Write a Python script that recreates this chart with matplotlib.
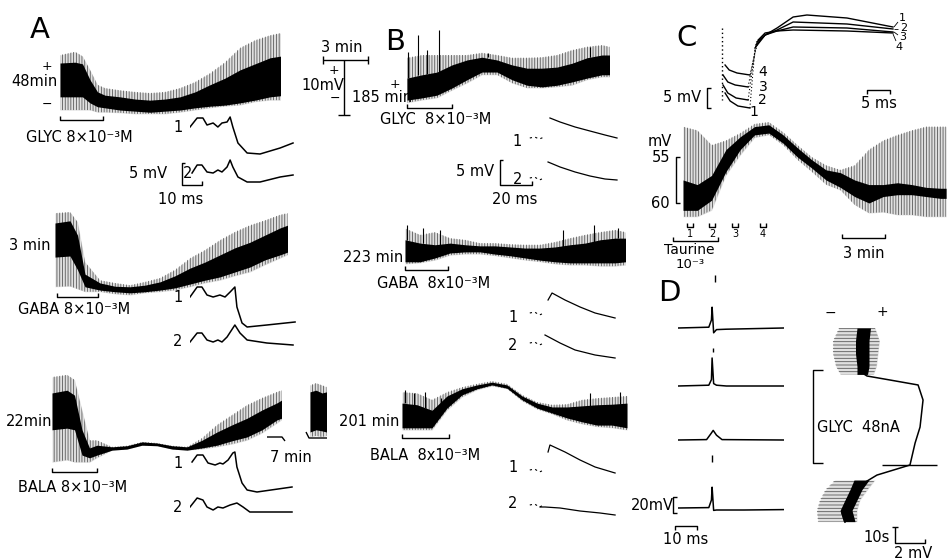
import matplotlib
matplotlib.use('Agg')
import matplotlib.pyplot as plt

plt.rcParams['font.family'] = ['DejaVu Sans Condensed', 'DejaVu Sans']
plt.rcParams['hatch.linewidth'] = 0.6

W, H = 947, 560

# ---------------- data ----------------
# slow chart-recorder traces: time (min), dense band hi/lo, sparse band top/bot (mV above box floor)
a_glyc_t = [0, 1, 1.5, 2, 2.5, 3, 4, 5, 6, 7, 8, 9, 10, 11, 12, 13, 14, 14.7]
a_glyc_hi = [9.45, 9.6, 9.3, 6.4, 4.2, 3.6, 3.3, 2.9, 2.7, 2.9, 3.3, 4.2, 5.5, 6.7, 8.2, 9.3, 10.4, 10.7]
a_glyc_lo = [3.3, 3.3, 3.3, 2.2, 1.5, 1.3, 0.9, 0.7, 0.5, 0.7, 0.9, 1.3, 1.6, 1.8, 2.2, 2.7, 3.3, 3.5]
a_glyc_top = [10.9, 11.5, 10.7, 8.2, 5.5, 4.9, 4.5, 4.2, 4.0, 4.2, 4.9, 6.0, 7.6, 9.6, 12.2, 13.6, 14.5, 14.9]
a_glyc_bot = [0.9, 0.9, 0.9, 0.9, 0.5, 0.5, 0.4, 0.2, 0.2, 0.2, 0.5, 0.9, 1.3, 1.6, 1.8, 2.4, 2.7, 2.7]

a_gaba_t = [0, 1, 1.5, 2, 3, 4, 5, 6, 7, 8, 9, 10, 11, 12, 13, 14, 15, 15.5]
a_gaba_hi = [14.0, 14.4, 11.8, 4.7, 3.1, 2.5, 2.4, 2.7, 3.3, 4.4, 5.8, 6.9, 8.2, 9.5, 10.5, 11.8, 13.1, 13.6]
a_gaba_lo = [7.8, 8.0, 5.5, 2.4, 1.8, 1.5, 1.3, 1.5, 1.8, 2.2, 2.9, 3.6, 4.2, 5.1, 6.0, 7.3, 8.2, 8.7]
a_gaba_top = [15.8, 16.0, 14.2, 6.9, 3.6, 3.1, 2.7, 3.3, 4.0, 5.5, 7.6, 9.1, 10.9, 12.4, 13.6, 14.5, 15.5, 15.8]
a_gaba_bot = [2.4, 2.5, 2.0, 1.5, 1.5, 1.1, 0.9, 1.3, 1.5, 1.8, 2.4, 3.1, 3.6, 4.4, 5.1, 6.4, 7.6, 8.2]

a_bala_t = [0, 1, 1.5, 2, 2.5, 3, 4, 5, 6, 7, 8, 9, 10, 11, 12, 13, 14, 15, 15.3]
a_bala_hi = [13.1, 13.6, 12.7, 6.4, 3.1, 3.6, 3.3, 3.5, 4.2, 4.0, 3.5, 3.3, 4.5, 6.0, 7.3, 8.5, 10.0, 11.3, 11.8]
a_bala_lo = [6.4, 6.7, 6.4, 1.8, 1.3, 1.8, 2.7, 2.9, 3.6, 3.5, 2.9, 2.7, 3.1, 3.6, 4.4, 5.1, 6.4, 8.2, 8.5]
a_bala_top = [16.0, 16.4, 15.5, 10.0, 4.5, 4.5, 3.3, 3.5, 4.2, 4.0, 3.5, 3.3, 4.9, 7.3, 9.1, 10.9, 12.2, 13.3, 13.6]
a_bala_bot = [0.5, 0.9, 0.5, 0.5, 0.5, 1.3, 2.7, 2.9, 3.6, 3.5, 2.9, 2.7, 2.9, 3.3, 3.8, 4.5, 5.8, 7.6, 8.2]
a_late_t = [0, 0.4, 0.8, 1.1]
a_late_hi = [13.3, 13.6, 13.1, 13.3]
a_late_lo = [6.0, 6.4, 6.2, 6.0]
a_late_top = [14.5, 14.9, 14.5, 14.2]
a_late_bot = [5.1, 5.3, 5.1, 5.3]

b_glyc_t = [0, 1, 2, 3, 4, 5, 6, 7, 8, 9, 10, 11, 12, 13, 13.5]
b_glyc_hi = [5.8, 6.4, 6.9, 8.2, 9.1, 9.6, 9.1, 8.2, 7.6, 7.6, 7.8, 8.5, 9.5, 10.0, 10.0]
b_glyc_lo = [1.8, 2.2, 2.7, 4.0, 5.5, 6.9, 6.9, 5.5, 4.5, 4.2, 4.5, 5.1, 5.8, 6.4, 6.4]
b_glyc_top = [9.5, 10.0, 10.0, 10.0, 10.0, 10.4, 10.0, 9.5, 9.5, 9.6, 10.0, 10.9, 11.5, 11.8, 11.5]
b_glyc_bot = [1.3, 1.8, 2.2, 3.6, 4.9, 6.4, 6.4, 4.9, 4.0, 4.0, 4.2, 4.5, 5.5, 6.0, 6.0]
b_glyc_spk_t = [0.05, 0.7, 1.3, 2.1, 5.4, 12.2]
b_glyc_spk_lo = [5.8, 6.4, 6.6, 6.9, 9.6, 9.6]
b_glyc_spk_hi = [10.5, 13.6, 10.9, 14.5, 10.4, 11.5]

b_gaba_t = [0, 1, 2, 3, 4, 5, 6, 7, 8, 9, 10, 11, 12, 13, 14, 14.7]
b_gaba_hi = [6.4, 5.8, 5.5, 5.8, 5.5, 5.3, 5.3, 5.1, 4.9, 4.9, 5.1, 5.5, 5.8, 6.4, 6.7, 6.7]
b_gaba_lo = [2.4, 2.4, 3.1, 4.0, 4.2, 4.2, 3.8, 3.5, 3.1, 2.7, 2.4, 2.2, 2.2, 2.2, 2.2, 2.4]
b_gaba_top = [8.5, 7.3, 7.8, 6.7, 6.4, 5.8, 5.8, 5.6, 5.5, 5.5, 6.0, 6.7, 7.3, 7.8, 8.2, 7.8]
b_gaba_bot = [2.0, 2.2, 2.7, 3.6, 3.8, 3.8, 3.5, 3.1, 2.7, 2.4, 2.0, 1.8, 1.8, 1.6, 1.6, 1.8]
b_gaba_spk_t = [0.1, 1.2, 2.3, 10.5, 12.6, 14.2]
b_gaba_spk_lo = [6.4, 5.8, 5.5, 5.1, 5.8, 6.7]
b_gaba_spk_hi = [9.1, 8.5, 8.2, 8.2, 9.1, 8.5]

b_bala_t = [0, 1, 2, 3, 4, 5, 6, 7, 8, 9, 10, 11, 12, 13, 14, 15]
b_bala_hi = [5.8, 5.5, 4.5, 7.1, 8.4, 9.1, 9.6, 9.1, 7.1, 5.8, 5.1, 5.1, 5.3, 5.5, 5.6, 5.8]
b_bala_lo = [1.3, 1.3, 1.3, 4.9, 7.3, 8.4, 9.1, 8.5, 6.4, 4.9, 4.0, 3.1, 2.4, 1.8, 1.8, 1.3]
b_bala_top = [7.8, 7.6, 6.4, 7.8, 8.7, 9.3, 9.8, 9.3, 7.3, 6.0, 5.5, 5.6, 6.4, 6.7, 6.9, 7.1]
b_bala_bot = [0.9, 0.9, 0.9, 4.5, 6.9, 8.2, 8.9, 8.4, 6.2, 4.7, 3.8, 2.7, 2.0, 1.5, 1.3, 0.9]
b_bala_spk_t = [0.2, 0.8, 1.5, 2.6, 12.5, 14.5]
b_bala_spk_lo = [5.8, 5.5, 5.0, 5.5, 5.3, 5.6]
b_bala_spk_hi = [8.2, 7.6, 7.8, 6.7, 7.6, 7.8]

# evoked potentials in A: time (ms), mV above box floor
a1_glyc_t = [0, 2.1, 3.8, 5.0, 6.8, 8.2, 9.4, 10.9, 11.8, 12.6, 14.1, 16.8, 20.6, 26.5, 30.3]
a1_glyc_v = [8.25, 10.5, 10.5, 8.75, 9.25, 8.25, 9.25, 9.5, 10.75, 8.25, 4.25, 1.75, 1.5, 3.0, 4.25]
a2_glyc_t = [0.6, 2.1, 3.5, 5.0, 6.8, 8.2, 9.4, 10.9, 11.8, 12.6, 14.1, 16.8, 20.6, 26.5, 30.3]
a2_glyc_v = [6.75, 8.75, 8.75, 7.0, 6.75, 7.5, 7.0, 8.25, 10.0, 8.25, 5.75, 4.5, 4.5, 5.75, 6.25]
a1_gaba_t = [0, 2.1, 3.5, 5.0, 6.8, 8.8, 10.3, 11.8, 13.2, 13.8, 15.3, 16.8, 22.6, 30.9]
a1_gaba_v = [8.25, 10.75, 10.75, 8.75, 8.25, 8.75, 8.25, 9.5, 10.75, 5.75, 1.75, 0.75, 1.25, 2.0]
a2_gaba_t = [0, 2.1, 3.5, 5.0, 6.8, 8.2, 9.4, 10.9, 13.2, 14.7, 16.8, 22.6, 30.3]
a2_gaba_v = [4.5, 6.75, 6.75, 5.0, 4.5, 5.0, 4.5, 5.75, 8.75, 6.75, 5.0, 4.25, 3.75]
a1_bala_t = [0.6, 2.1, 3.8, 5.3, 7.4, 8.8, 9.7, 11.2, 12.6, 13.2, 13.8, 15.3, 16.8, 19.7, 30.0]
a1_bala_v = [9.5, 11.25, 11.25, 9.25, 8.75, 9.25, 9.0, 10.0, 11.75, 12.0, 8.25, 4.25, 2.5, 2.0, 3.25]
a2_bala_t = [0, 2.1, 3.8, 5.0, 6.8, 8.2, 9.7, 11.8, 13.8, 15.6, 17.6, 30.0]
a2_bala_v = [5.75, 8.0, 7.5, 5.75, 5.0, 5.75, 5.5, 6.25, 6.75, 5.75, 4.5, 4.5]

# evoked potentials in B: faint lead-in and decay (ms, mV)
b_pre_t = [3, 6, 9, 12]
b1_glyc_pre = [1.4, 1.6, 1.2, 1.6]
b1_glyc_t = [15.6, 21.9, 31.3, 40.6, 50, 57.5]
b1_glyc_v = [5.4, 4.6, 3.6, 2.8, 2.0, 1.4]
b2_glyc_pre = [1.4, 1.6, 1.0, 1.4]
b2_glyc_t = [14.4, 21.9, 31.3, 40.6, 50, 57.5]
b2_glyc_v = [4.6, 3.6, 2.6, 1.8, 1.2, 1.0]
b1_gaba_pre = [2.4, 2.6, 2.0, 2.4]
b1_gaba_t = [14.4, 16.9, 25, 34.4, 43.8, 56.3]
b1_gaba_v = [5.0, 6.4, 5.0, 3.6, 2.4, 1.4]
b2_gaba_pre = [4.4, 4.6, 4.0, 4.4]
b2_gaba_t = [12.5, 21.9, 31.3, 43.8, 56.3]
b2_gaba_v = [6.0, 4.4, 3.0, 2.0, 1.4]
b1_bala_pre = [2.0, 2.2, 1.6, 2.0]
b1_bala_t = [14.4, 15.6, 25, 34.4, 43.8, 56.3]
b1_bala_v = [5.6, 7.0, 5.6, 4.0, 2.6, 1.4]
b2_bala_pre = [3.0, 3.2, 2.6, 3.0]
b2_bala_t = [9.4, 12.5, 21.9, 34.4, 46.9, 56.3]
b2_bala_v = [2.6, 2.6, 2.4, 1.8, 1.4, 1.0]

# C: superimposed responses 1-4 (ms, mV)
c_left_t = [[1.1, 2.2, 3.9, 6.5], [0.65, 1.7, 3.5, 6.1], [0.65, 1.7, 3.3, 6.1], [1.1, 2.0, 3.7, 6.5]]
c_left_v = [[6.75, 4.75, 3.5, 3.0], [8.75, 6.75, 5.5, 5.0], [11.25, 9.5, 8.75, 8.25], [13.75, 12.5, 11.75, 11.25]]
c_right_t = [[7.6, 9.8, 12.4, 15.9, 18.9, 27.6, 37.6], [7.8, 9.8, 12.4, 15.9, 27.6, 37.6],
             [8.0, 9.8, 12.4, 15.9, 27.6, 37.6], [8.3, 9.8, 12.4, 15.9, 27.6, 37.6]]
c_right_v = [[18, 21.25, 23, 25.75, 26.25, 25.5, 23.25], [18.75, 21.25, 22.5, 24.5, 24, 22.75],
             [19.5, 21.25, 22.25, 23.25, 23, 22], [20, 21.75, 22.25, 22.5, 22.25, 21.75]]
c_art_t = [0.4, 0.4]
c_art_v = [23, 5]
curve_names = ['1', '2', '3', '4']

# C: taurine record (min, mV)
c_t = [0, 1, 2, 3, 4, 5, 6, 7, 8, 9, 10, 11, 12, 13, 14, 15, 16, 17, 18, 18.4]
c_hi = [-57.5, -58.0, -57.0, -54.2, -52.8, -51.7, -51.5, -52.6, -54.0, -55.3, -56.4, -56.7, -57.5, -58.0, -58.0, -57.8, -58.0, -58.3, -58.4, -58.4]
c_lo = [-60.8, -60.8, -59.7, -56.6, -54.2, -52.6, -52.4, -53.5, -55.0, -56.2, -57.5, -58.3, -59.3, -60.0, -59.3, -59.1, -59.1, -59.3, -59.5, -59.5]
c_top = [-51.7, -52.1, -53.7, -53.2, -52.4, -51.4, -51.2, -52.3, -53.7, -55.0, -55.9, -56.4, -55.9, -54.2, -53.2, -52.6, -52.1, -51.7, -51.7, -51.7]
c_bot = [-61.5, -61.5, -60.8, -57.0, -54.8, -52.9, -52.6, -53.7, -55.3, -56.6, -58.0, -58.6, -60.2, -61.1, -61.0, -61.3, -61.3, -61.5, -61.5, -61.5]
c_marks = ['1', '2', '3', '4']

# D left: spikes (ms, mV)
d_t = [[0, 14, 15.2, 15.5, 16.2, 17.5, 22, 48], [0, 14, 15.2, 15.5, 16.2, 17.5, 22, 48],
       [0, 13, 15, 16, 17.5, 20, 48], [0, 14, 15.2, 15.5, 16.2, 17.5, 30, 48]]
d_v = [[0, 1, 10, 26, -6, -2, -1.5, 0], [0, 1, 8, 35, 3, 1, 0, 0],
       [0, 0.5, 8, 12, 6, 0.5, 0], [0, 0.5, 10, 26, -3, -2.5, -2.5, -2]]

# D right: slow record, time (s) runs downward, potential (mV) to the right
dr_top_t = [0, 8, 16, 24, 29]
dr_top_dlo = [-0.2, -0.3, -0.3, -0.2, -0.2]
dr_top_dhi = [0.7, 0.6, 0.6, 0.6, 0.5]
dr_top_slo = [-1.4, -1.8, -1.8, -1.6, -1.3]
dr_top_shi = [1.0, 1.3, 1.2, 1.1, 0.9]
dr_resp_t = [29, 30, 32.5, 35.6, 45, 61.9, 71.9, 85.6, 87.5, 91.9, 99.4, 107.5, 115.6, 121.3]
dr_resp_v = [0.3, 0.47, 2.0, 3.87, 4.2, 4.0, 3.67, 3.33, 2.67, 1.13, -0.2, -0.87, -1.2, -1.0]
dr_bot_t = [95, 101, 107.5, 114, 121]
dr_bot_dlo = [-0.4, -0.67, -1.0, -1.33, -1.1]
dr_bot_dhi = [0.6, 0.13, -0.2, -0.53, -0.33]
dr_bot_slo = [-1.67, -2.3, -2.67, -2.87, -2.8]
dr_bot_shi = [1.0, 0.5, 0.0, -0.2, -0.2]

# ---------------- figure ----------------
fig = plt.figure(figsize=(W / 100, H / 100), dpi=100)


def panel(l, t, r, b, sx, sy, y0=0.0):
    # axes placed by pixel box; sx, sy = pixels per data unit
    ax = fig.add_axes([l / W, 1 - b / H, (r - l) / W, (b - t) / H])
    ax.set_xlim(0, (r - l) / sx)
    ax.set_ylim(y0, y0 + (b - t) / sy)
    ax.axis('off')
    return ax


def noisy(ax, t, hi, lo, top, bot):
    ax.fill_between(t, bot, top, color='0.88', lw=0)
    ax.fill_between(t, bot, top, facecolor='none', edgecolor='0.35', hatch='||||||', lw=0)
    ax.fill_between(t, lo, hi, color='k', lw=0)


def spikes(ax, t, lo, hi):
    ax.vlines(t, lo, hi, color='k', lw=0.8)


# A slow records
ax = panel(60, 30, 282, 115, 15, 5.5)
noisy(ax, a_glyc_t, a_glyc_hi, a_glyc_lo, a_glyc_top, a_glyc_bot)
ax = panel(55, 205, 290, 300, 15, 5.5)
noisy(ax, a_gaba_t, a_gaba_hi, a_gaba_lo, a_gaba_top, a_gaba_bot)
ax = panel(52, 370, 285, 465, 15, 5.5)
noisy(ax, a_bala_t, a_bala_hi, a_bala_lo, a_bala_top, a_bala_bot)
ax = panel(310, 370, 330, 465, 15, 5.5)
noisy(ax, a_late_t, a_late_hi, a_late_lo, a_late_top, a_late_bot)

# A evoked
for base, t, v in [(160, a1_glyc_t, a1_glyc_v), (200, a2_glyc_t, a2_glyc_v),
                   (330, a1_gaba_t, a1_gaba_v), (360, a2_gaba_t, a2_gaba_v),
                   (500, a1_bala_t, a1_bala_v), (530, a2_bala_t, a2_bala_v)]:
    ax = panel(190, base - 50, 296, base, 3.4, 4)
    ax.plot(t, v, color='k', lw=1.1)

# B slow records
ax = panel(407, 25, 612, 110, 15, 5.5)
noisy(ax, b_glyc_t, b_glyc_hi, b_glyc_lo, b_glyc_top, b_glyc_bot)
spikes(ax, b_glyc_spk_t, b_glyc_spk_lo, b_glyc_spk_hi)
ax = panel(405, 215, 627, 275, 15, 5.5)
noisy(ax, b_gaba_t, b_gaba_hi, b_gaba_lo, b_gaba_top, b_gaba_bot)
spikes(ax, b_gaba_spk_t, b_gaba_spk_lo, b_gaba_spk_hi)
ax = panel(402, 375, 630, 435, 15, 5.5)
noisy(ax, b_bala_t, b_bala_hi, b_bala_lo, b_bala_top, b_bala_bot)
spikes(ax, b_bala_spk_t, b_bala_spk_lo, b_bala_spk_hi)

# B evoked
for base, pre, t, v in [(145, b1_glyc_pre, b1_glyc_t, b1_glyc_v), (185, b2_glyc_pre, b2_glyc_t, b2_glyc_v),
                        (325, b1_gaba_pre, b1_gaba_t, b1_gaba_v), (365, b2_gaba_pre, b2_gaba_t, b2_gaba_v),
                        (480, b1_bala_pre, b1_bala_t, b1_bala_v), (520, b2_bala_pre, b2_bala_t, b2_bala_v)]:
    ax = panel(525, base - 50, 620, base, 1.6, 5)
    ax.plot(b_pre_t, pre, color='k', lw=0.8, ls=(0, (2, 3)))
    ax.plot(t, v, color='k', lw=0.9)

# C superimposed responses
ax = panel(720, 5, 895, 120, 4.6, 4)
ax.plot(c_art_t, c_art_v, color='k', lw=1, ls=(0, (1, 2)))
for i in range(4):
    ax.plot(c_left_t[i], c_left_v[i], color='k', lw=1)
    ax.plot([c_left_t[i][-1], c_right_t[i][0]], [c_left_v[i][-1], c_right_v[i][0]],
            color='k', lw=0.8, ls=(0, (1, 2)))
    ax.plot(c_right_t[i], c_right_v[i], color='k', lw=1)

# C taurine record
ax = panel(683, 120, 947, 220, 14.3, 9.2, y0=-61.85)
noisy(ax, c_t, c_hi, c_lo, c_top, c_bot)

# D left spikes
for base, t, v in zip([328, 386, 440, 508], d_t, d_v):
    ax = panel(678, base - 40, 784, base + 10, 2.2, 0.8, y0=-12.5)
    ax.plot(t, v, color='k', lw=1.1)

# D right record (vertical time axis)
ax = fig.add_axes([810 / W, 1 - 525 / H, 130 / W, 205 / H])
ax.set_xlim(-3.33, 5.33)
ax.set_ylim(123.1, -5)
ax.axis('off')
for tt, slo, shi, dlo, dhi in [(dr_top_t, dr_top_slo, dr_top_shi, dr_top_dlo, dr_top_dhi),
                               (dr_bot_t, dr_bot_slo, dr_bot_shi, dr_bot_dlo, dr_bot_dhi)]:
    ax.fill_betweenx(tt, slo, shi, color='0.88', lw=0)
    ax.fill_betweenx(tt, slo, shi, facecolor='none', edgecolor='0.35', hatch='-----', lw=0)
    ax.fill_betweenx(tt, dlo, dhi, color='k', lw=0)
ax.plot(dr_resp_v, dr_resp_t, color='k', lw=1.1)

# ---------------- labels, brackets, scale bars ----------------
ov = fig.add_axes([0, 0, 1, 1])
ov.set_xlim(0, W)
ov.set_ylim(H, 0)
ov.axis('off')


def txt(x, y, s, size=10.5, **kw):
    ov.text(x, y, s, fontsize=size, ha='center', va='center', **kw)


def seg(xs, ys, lw=1.0):
    ov.plot(xs, ys, color='k', lw=lw, solid_capstyle='butt')


def bracket(x1, x2, y, h=4):
    seg([x1, x1, x2, x2], [y - h, y, y, y - h])


# panel A
txt(40, 30, 'A', 21)
txt(47, 66, '+', 9)
txt(34, 82, '48min')
txt(47, 104, '−', 9)
bracket(60, 103, 120)
txt(79, 137, 'GLYC 8×10⁻³M')
txt(178, 128, '1')
txt(188, 173, '2')
txt(148, 173, '5 mV')
seg([185, 182, 182, 202, 202], [163, 163, 185, 185, 181])
txt(181, 199, '10 ms')

txt(30, 245, '3 min')
bracket(57, 98, 297)
txt(74, 310, 'GABA 8×10⁻³M')
txt(178, 298, '1')
txt(178, 342, '2')

txt(29, 422, '22min')
bracket(52, 97, 472)
txt(73, 487, 'BALA 8×10⁻³M')
txt(178, 463, '1')
txt(178, 507, '2')
seg([267, 282, 285], [437, 437, 441])
seg([306, 309, 327], [432, 438, 438])
txt(291, 457, '7 min')

# panel B
txt(342, 47, '3 min')
seg([323, 368], [60, 60])
seg([323, 323], [56, 64])
seg([368, 368], [56, 64])
seg([344, 344], [60, 115])
seg([338, 350], [115, 115])
txt(334, 70, '+', 9)
txt(323, 85, '10mV')
txt(335, 98, '−', 9)
txt(395, 42, 'B', 21)
txt(395, 84, '+', 9)
txt(382, 98, '185 min')
bracket(407, 452, 108)
txt(436, 119, 'GLYC  8×10⁻³M')
txt(517, 142, '1')
txt(518, 180, '2')
txt(475, 172, '5 mV')
seg([503, 500, 500, 532, 532], [160, 160, 185, 185, 181])
txt(515, 199, '20 ms')

txt(373, 257, '223 min')
bracket(405, 448, 270)
txt(434, 283, 'GABA  8x10⁻³M')
txt(513, 317, '1')
txt(513, 345, '2')

txt(369, 421, '201 min')
bracket(402, 449, 438)
txt(425, 455, 'BALA  8x10⁻³M')
txt(513, 467, '1')
txt(513, 503, '2')

# panel C
txt(687, 38, 'C', 21)
for name, (x, y) in zip(curve_names, [(754, 112), (762, 100), (763, 87), (763, 72)]):
    txt(x, y, name, 10)
for name, (x, y) in zip(curve_names, [(902, 18), (904, 28), (903, 37), (899, 47)]):
    txt(x, y, name, 8)
seg([894, 898], [27, 22], lw=0.6)
seg([894, 898], [29, 29], lw=0.6)
seg([894, 898], [32, 35], lw=0.6)
seg([893, 896], [34, 41], lw=0.6)
txt(682, 98, '5 mV')
seg([711, 707, 707, 711], [88, 88, 108, 108])
seg([867, 867, 890, 890], [94, 90, 90, 94])
txt(879, 103, '5 ms')

txt(660, 142, 'mV')
txt(661, 158, '55')
txt(660, 204, '60')
seg([680, 676, 676, 680], [157, 157, 203, 203])
for name, x in zip(c_marks, [690, 712, 735, 763]):
    seg([x - 3, x - 3, x + 3, x + 3], [223, 227, 227, 223])
    txt(x, 234, name, 7)
bracket(673, 718, 241)
txt(689, 250, 'Taurine', 10)
txt(690, 264, '10⁻³', 9.5)
seg([842, 842, 885, 885], [234, 238, 238, 234])
txt(864, 253, '3 min')

# panel D
txt(669, 293, 'D', 21)
seg([715, 715], [275, 282])
seg([713, 713], [348, 352])
seg([712, 712], [455, 462])
txt(652, 505, '20mV')
seg([677, 673, 673, 677], [497, 497, 513, 513])
seg([675, 675, 697, 697], [530, 526, 526, 530])
txt(686, 539, '10 ms')
txt(830, 313, '−', 10)
txt(882, 312, '+', 10)
seg([823, 813, 813, 823], [370, 370, 463, 463])
txt(858, 427, 'GLYC  48nA')
seg([882, 937], [465, 465])
txt(877, 538, '10s')
seg([892, 898], [527, 527])
seg([895, 895, 925, 925], [527, 543, 543, 539])
txt(913, 553, '2 mV')

fig.savefig('out.png', dpi=100)
